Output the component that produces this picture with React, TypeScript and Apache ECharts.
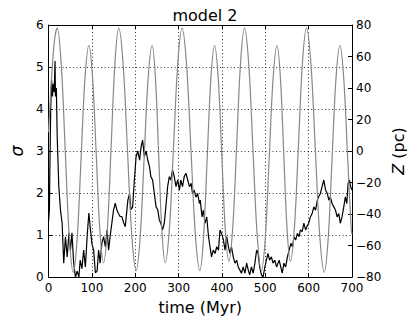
import React, { useEffect, useRef } from "react";
import * as echarts from "echarts";

const titleText = "model 2";

// sigma (black line): time (Myr) and sigma values
const sigmaTime = [
  0, 2, 3, 5, 7, 9, 11, 13, 15, 16, 18, 20, 23.7, 27.5, 31.4, 35, 39, 43, 47, 50.5, 54, 58, 62, 66, 70, 73, 77, 81, 85, 89, 93, 96, 100, 104, 108, 112, 115.5, 119, 123, 127, 131, 135, 138.5, 142, 146, 150, 154, 157.5, 161, 165, 169, 173, 177, 183, 187, 190, 194, 198, 202, 206, 210, 213.5, 217, 221, 225, 229, 233, 236, 240, 244, 248, 252, 255.5, 259, 263, 267, 270.6, 274.7, 278.6, 282, 286, 290, 294, 298, 302, 305, 309, 313, 317, 321, 325, 329, 332, 336, 340, 344, 348, 350, 354, 357, 361, 365, 369, 372.5, 376, 380, 384, 388, 392, 395.5, 399, 403.5, 407, 411, 415, 418.5, 422, 426, 430, 434, 437.5, 441, 445, 449, 453, 457, 460.5, 464, 468, 472, 476, 480, 483.5, 487, 491, 495, 499, 502.6, 506, 510, 514, 518, 522, 526, 532, 539, 543, 547, 551, 555, 559, 563, 566, 570, 574, 578, 581, 585, 589, 593, 596, 600, 604, 608, 612, 616, 620, 623, 627, 631, 635, 639, 643, 646.6, 650, 654, 658, 662, 665.6, 669.5, 673, 677, 681, 684.6, 688, 691, 694, 697, 700,
];
const sigmaValues = [
  1.32, 1.6, 2.5, 4.0, 4.7, 4.3, 4.6, 4.4, 5.14, 4.3, 4.5, 3.34, 2.15, 1.6, 1.28, 0.33, 0.96, 0.48, 1.05, 0.64, 1.05, 0.33, 0.0, 0.14, 0.0, 0.4, 0.2, 0.64, 0.24, 0.96, 1.52, 1.2, 0.8, 0.64, 0.1, 0.14, 0.64, 0.33, 0.8, 0.96, 0.72, 1.12, 0.64, 0.96, 1.28, 1.6, 1.76, 1.6, 1.52, 1.44, 1.44, 1.3, 1.2, 1.83, 1.99, 1.6, 1.67, 2.31, 2.87, 3.0, 2.78, 3.1, 3.26, 2.87, 3.0, 2.78, 2.62, 2.39, 2.31, 1.99, 1.67, 1.6, 1.36, 1.28, 1.12, 1.28, 1.67, 2.15, 2.39, 2.31, 2.55, 2.39, 2.15, 2.31, 2.07, 2.31, 2.15, 2.39, 2.47, 2.31, 2.15, 2.23, 1.99, 2.07, 1.9, 1.99, 1.75, 1.83, 1.43, 1.59, 1.28, 1.43, 0.96, 0.72, 0.48, 0.64, 0.56, 0.72, 0.64, 1.12, 1.04, 0.88, 0.64, 0.96, 0.72, 0.56, 0.72, 0.48, 0.33, 0.4, 0.24, 0.17, 0.09, 0.24, 0.09, 0.33, 0.17, 0.05, 0.24, 0.09, 0.33, 0.64, 0.56, 0.24, 0.05, 0.0, 0.24, 0.4, 0.56, 0.4, 0.48, 0.33, 0.4, 0.24, 0.4, 0.09, 0.33, 0.24, 0.48, 0.64, 0.8, 0.72, 0.96, 0.88, 1.04, 0.96, 1.12, 1.08, 1.28, 1.12, 1.2, 1.28, 1.43, 1.51, 1.67, 1.59, 1.83, 1.91, 1.99, 2.15, 2.31, 2.07, 1.99, 1.83, 1.91, 1.75, 1.67, 1.59, 1.43, 1.51, 1.28, 1.43, 1.67, 1.91, 1.75, 2.23, 2.31, 2.15, 2.07,
];

// Z (gray line): time (Myr) and Z (pc) values
const zTime = [
  0, 4.5, 9, 14.5, 20, 29.25, 38.5, 47.75, 57, 66, 75, 84, 93, 101.5, 110, 118.5, 127, 135.75, 144.5, 153.25, 162, 172, 182, 192, 202, 211.25, 220.5, 229.75, 239, 246.5, 254, 261.5, 269, 278.75, 288.5, 298.25, 308, 318.25, 328.5, 338.75, 349, 357.5, 366, 374.5, 383, 391.25, 399.5, 407.75, 416, 425, 434, 443, 452, 461.75, 471.5, 481.25, 491, 500, 509, 518, 527, 534.75, 542.5, 550.25, 558, 567.25, 576.5, 585.75, 595, 605.25, 615.5, 625.75, 636, 645, 654, 663, 672, 680.75, 689.5, 698.25, 700,
];
const zValues = [
  12, 35, 55, 72, 78, 55.3, 0.5, -54.3, -77, -55.9, -5, 45.9, 67, 46.8, -2, -50.8, -71, -49.2, 3.5, 56.2, 78, 55.4, 1, -53.4, -76, -55.1, -4.5, 46.1, 67, 46.8, -2, -50.8, -71, -49.2, 3.5, 56.2, 78, 55.4, 1, -53.4, -76, -55.1, -4.5, 46.1, 67, 46.9, -1.5, -49.9, -70, -48.3, 4, 56.3, 78, 55.4, 1, -53.4, -76, -55.1, -4.5, 46.1, 67, 46.9, -1.5, -49.9, -70, -48.3, 4, 56.3, 78, 55.3, 0.5, -54.3, -77, -55.9, -5, 45.9, 67, 46.9, -1.5, -49.9, -53,
];

const FONT = "DejaVu Sans";

export default function App() {
  const ref = useRef<HTMLDivElement>(null);
  useEffect(() => {
    if (!ref.current) return;
    const chart = echarts.init(ref.current, undefined, { renderer: "svg" });
    const sigmaData = sigmaTime.map((t, i) => [t, sigmaValues[i]]);
    const zData = zTime.map((t, i) => [t, zValues[i]]);
    const minus = (v: number) => (v < 0 ? "\u2212" + Math.abs(v) : String(v));
    const gridDots = { color: "#000", width: 0.8, type: [1, 2.5] as any };
    const axisLine = { show: true, onZero: false, lineStyle: { color: "#000", width: 1 } };
    const tick = { show: true, inside: true, length: 4, lineStyle: { color: "#000" } };
    chart.setOption({
      animation: false,
      backgroundColor: "#fff",
      title: {
        text: titleText,
        left: 200,
        top: 2,
        textAlign: "center",
        textStyle: { fontFamily: FONT, fontSize: 16, fontWeight: "normal", color: "#000" },
      },
      grid: { left: 47, right: 63, top: 25, bottom: 47, containLabel: false },
      xAxis: [
        {
          type: "value",
          min: 0,
          max: 700,
          interval: 100,
          position: "bottom",
          name: "time (Myr)",
          nameLocation: "middle",
          nameGap: 22,
          nameTextStyle: { fontFamily: FONT, fontSize: 16, color: "#000" },
          axisLine,
          axisTick: tick,
          axisLabel: { fontFamily: FONT, fontSize: 12, color: "#000", margin: 5 },
          splitLine: { show: true, lineStyle: gridDots },
        },
        {
          type: "value",
          min: 0,
          max: 700,
          interval: 100,
          position: "top",
          axisLine,
          axisTick: tick,
          axisLabel: { show: false },
          splitLine: { show: false },
        },
      ],
      yAxis: [
        {
          type: "value",
          min: 0,
          max: 6,
          interval: 1,
          position: "left",
          name: "\u03c3",
          nameLocation: "middle",
          nameGap: 20,
          nameRotate: 90,
          nameTextStyle: { fontFamily: FONT, fontSize: 17, fontStyle: "italic", color: "#000" },
          axisLine,
          axisTick: tick,
          axisLabel: { fontFamily: FONT, fontSize: 12, color: "#000", margin: 5 },
          splitLine: { show: true, lineStyle: gridDots },
        },
        {
          type: "value",
          min: -80,
          max: 80,
          interval: 20,
          position: "right",
          axisLine,
          axisTick: tick,
          axisLabel: { fontFamily: FONT, fontSize: 12, color: "#000", margin: 4, formatter: minus },
          splitLine: { show: false },
        },
      ],
      graphic: [
        {
          type: "text",
          x: 398,
          y: 151,
          rotation: Math.PI / 2,
          style: {
            text: "{i|Z} (pc)",
            fontFamily: FONT,
            fontSize: 16,
            fill: "#000",
            align: "center",
            verticalAlign: "middle",
            rich: { i: { fontStyle: "italic", fontFamily: FONT, fontSize: 16, fill: "#000" } },
          },
        },
      ],
      series: [
        {
          type: "line",
          xAxisIndex: 0,
          yAxisIndex: 0,
          data: sigmaData,
          showSymbol: false,
          symbol: "none",
          lineStyle: { color: "#000", width: 1.2 },
          z: 2,
        },
        {
          type: "line",
          xAxisIndex: 0,
          yAxisIndex: 1,
          data: zData,
          smooth: 0.35,
          showSymbol: false,
          symbol: "none",
          lineStyle: { color: "#888", width: 1.2 },
          z: 3,
        },
      ],
    });
    return () => chart.dispose();
  }, []);
  return <div ref={ref} style={{ width: 415, height: 324, position: "absolute", left: 0, top: 0 }} />;
}
